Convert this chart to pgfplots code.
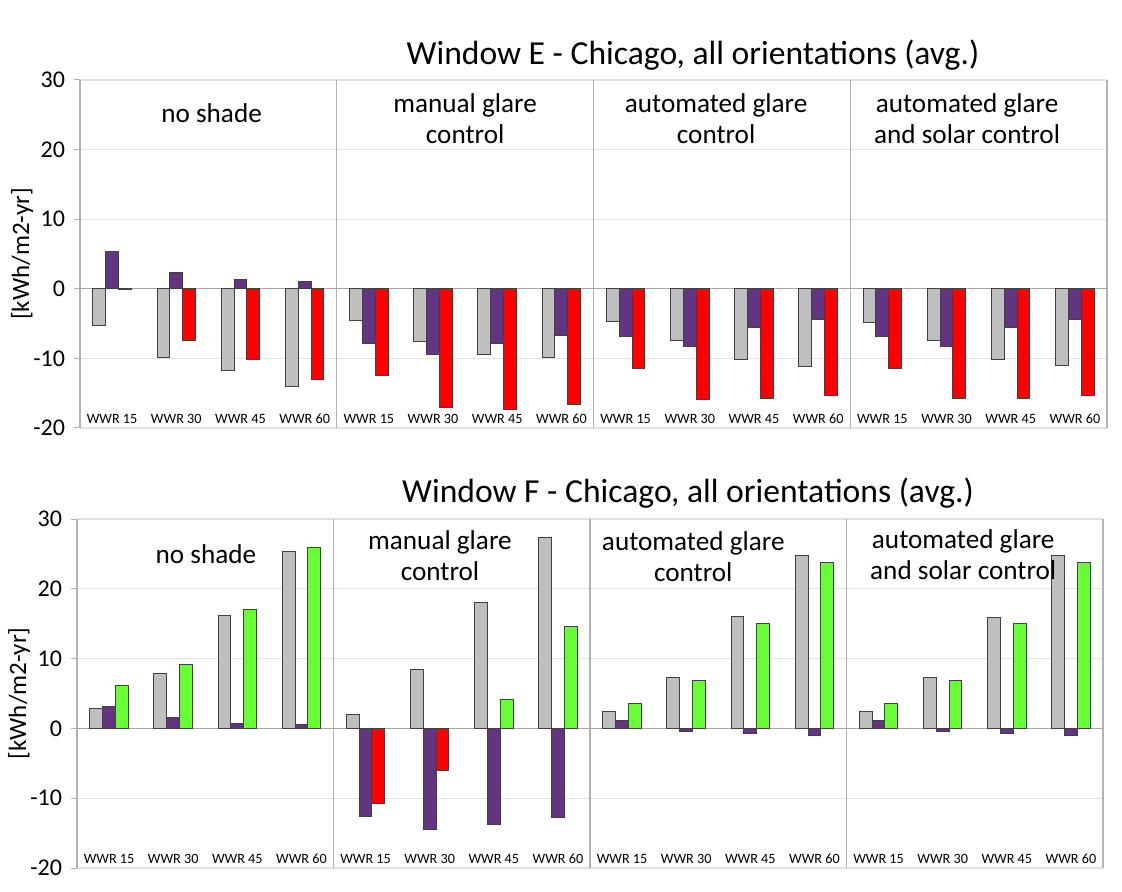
\documentclass[border=0pt]{standalone}
\usepackage{fontspec}
\setmainfont{Carlito}
\usepackage{pgfplots}
\usepackage{pgfplotstable}
\pgfplotsset{compat=1.18}

\definecolor{bgray}{RGB}{191,191,191}
\definecolor{bpurple}{RGB}{99,52,128}
\definecolor{bred}{RGB}{255,0,0}
\definecolor{bgreen}{RGB}{102,255,51}
\definecolor{edge}{RGB}{64,64,64}

\pgfplotstableread{
x g p r gr
0 -5.3 5.3 -0.1 nan
1 -9.9 2.4 -7.4 nan
2 -11.7 1.3 -10.2 nan
3 -14.1 1.1 -13.0 nan
4 -4.6 -7.9 -12.4 nan
5 -7.6 -9.4 -17.0 nan
6 -9.5 -7.8 -17.4 nan
7 -9.9 -6.7 -16.6 nan
8 -4.7 -6.8 -11.5 nan
9 -7.5 -8.3 -15.9 nan
10 -10.2 -5.6 -15.8 nan
11 -11.1 -4.35 -15.4 nan
12 -4.8 -6.8 -11.5 nan
13 -7.5 -8.3 -15.8 nan
14 -10.2 -5.6 -15.8 nan
15 -11.0 -4.4 -15.4 nan
}\dataE

\pgfplotstableread{
x g p r gr
0 2.9 3.2 nan 6.1
1 7.8 1.5 nan 9.2
2 16.2 0.75 nan 17.0
3 25.3 0.5 nan 25.9
4 2.0 -12.6 -10.7 nan
5 8.4 -14.5 -6.0 nan
6 18.0 -13.8 nan 4.2
7 27.4 -12.8 nan 14.6
8 2.4 1.1 nan 3.5
9 7.3 -0.4 nan 6.9
10 16.0 -0.8 nan 15.1
11 24.7 -1.0 nan 23.8
12 2.4 1.1 nan 3.5
13 7.3 -0.4 nan 6.9
14 15.9 -0.8 nan 15.0
15 24.7 -1.0 nan 23.7
}\dataF

\pgfplotsset{
  panel/.style={
    scale only axis,
    width=513.5pt, height=174pt,
    xmin=-0.5, xmax=15.5,
    ymin=-20, ymax=30,
    ytick={-20,-10,0,10,20,30},
    xtick={0,...,15},
    xticklabels={WWR 15,WWR 30,WWR 45,WWR 60,WWR 15,WWR 30,WWR 45,WWR 60,WWR 15,WWR 30,WWR 45,WWR 60,WWR 15,WWR 30,WWR 45,WWR 60},
    xticklabel style={font=\fontsize{7.1}{8}\selectfont, anchor=center, yshift=7.5pt},
    x tick style={draw=none},
    y tick style={draw=gray!60, line width=0.5pt},
    ytick pos=left,
    xtick pos=bottom,
    tick align=outside,
    major tick length=3pt,
    ymajorgrids,
    major grid style={draw=gray!22, line width=0.6pt},
    separate axis lines,
    x axis line style={draw=gray!25, line width=0.6pt},
    y axis line style={draw=gray!60, line width=0.6pt},
    yticklabel style={font=\fontsize{12}{13}\selectfont, xshift=-1pt},
    /pgf/number format/assume math mode=true,
    ylabel={[kWh/m2-yr]},
    every axis y label/.style={at={(rel axis cs:0,0.5)}, xshift=-29pt, rotate=90, anchor=center, font=\fontsize{12.5}{13}\selectfont},
    extra x ticks={3.5,7.5,11.5},
    extra x tick labels={},
    extra x tick style={grid=major, major grid style={draw=gray!60, line width=0.6pt}},
    extra y ticks={0},
    extra y tick labels={},
    extra y tick style={grid=major, major grid style={draw=gray!70, line width=0.6pt}},
    unbounded coords=discard,
    clip=false,
  },
  barstyle/.style={ybar, bar width=0.2, draw=edge, line width=0.5pt},
}

\begin{document}
\begin{tikzpicture}
\useasboundingbox (0,0) rectangle (561pt,-446pt);

\node[font=\fontsize{16.8}{19}\selectfont] at (346.5pt,-27.5pt) {Window E - Chicago, all orientations (avg.)};
\node[font=\fontsize{16.8}{19}\selectfont] at (344pt,-246.5pt) {Window F - Chicago, all orientations (avg.)};

\begin{axis}[panel, at={(40pt,-40pt)}, anchor=north west]
\addplot[barstyle, fill=bgray, bar shift=-0.2] table[x=x,y=g] {\dataE};
\addplot[barstyle, fill=bpurple, bar shift=0] table[x=x,y=p] {\dataE};
\addplot[barstyle, fill=bred, bar shift=0.2] table[x=x,y=r] {\dataE};
\node[font=\fontsize{13.6}{15.5}\selectfont] at (axis cs:1.55,25.25) {no shade};
\node[font=\fontsize{13.6}{15.5}\selectfont, align=center] at (axis cs:5.5,24.46) {manual glare\\control};
\node[font=\fontsize{13.6}{15.5}\selectfont, align=center] at (axis cs:9.41,24.46) {automated glare\\control};
\node[font=\fontsize{13.6}{15.5}\selectfont, align=center] at (axis cs:13.32,24.46) {automated glare\\and solar control};
\end{axis}

\begin{axis}[panel, at={(38.5pt,-259.5pt)}, anchor=north west, width=513pt, height=174.5pt]
\addplot[barstyle, fill=bgray, bar shift=-0.2] table[x=x,y=g] {\dataF};
\addplot[barstyle, fill=bpurple, bar shift=0] table[x=x,y=p] {\dataF};
\addplot[barstyle, fill=bred, bar shift=0.2] table[x=x,y=r] {\dataF};
\addplot[barstyle, fill=bgreen, bar shift=0.2] table[x=x,y=gr] {\dataF};
\node[font=\fontsize{13.6}{15.5}\selectfont] at (axis cs:1.51,24.9) {no shade};
\node[font=\fontsize{13.6}{15.5}\selectfont, align=center] at (axis cs:5.16,24.8) {manual glare\\control};
\node[font=\fontsize{13.6}{15.5}\selectfont, align=center] at (axis cs:9.11,24.6) {automated glare\\control};
\node[font=\fontsize{13.6}{15.5}\selectfont, align=center] at (axis cs:13.32,24.9) {automated glare\\and solar control};
\end{axis}
\end{tikzpicture}
\end{document}
